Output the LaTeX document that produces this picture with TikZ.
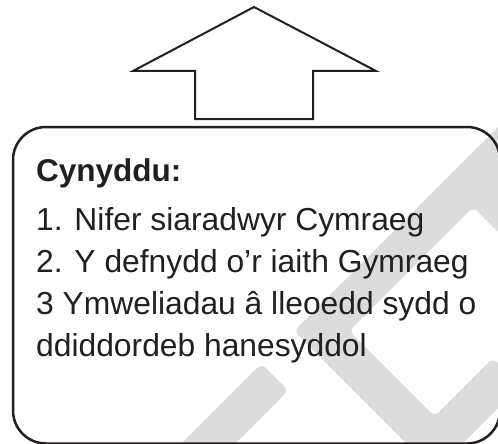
\documentclass[tikz,border=0pt]{standalone}
\usepackage{fontspec}
\setmainfont{Liberation Sans}
\definecolor{ink}{RGB}{35,31,32}
\definecolor{wm}{RGB}{220,220,220}
\tikzset{
  txt/.style={anchor=base west, inner sep=0pt, text=ink, font=\fontsize{31.8}{38}\selectfont},
  ttl/.style={txt, font=\bfseries\fontsize{31.5}{38}\selectfont},
  wmark/.style={fill=wm, rounded corners=6pt},
  boxstyle/.style={draw=ink, line width=2.5pt, rounded corners=33pt, inner sep=0pt},
  arrowline/.style={draw=ink, line width=2pt, line join=miter}
}
\begin{document}
\begin{tikzpicture}[x=1pt,y=-1pt]
\useasboundingbox (0,0) rectangle (498,444);
% watermark
\begin{scope}
\clip (0,0) rectangle (498,444);
\path[wmark] (261.6,363.6) -- (288.4,390.4) -- (182.4,496.4) -- (155.6,469.6) -- cycle;
\path[wmark] (560,65) -- (294,331) -- (434.5,471.5) -- (520.5,385.5) -- (493,358)
  -- (434.5,416.5) -- (349,331) -- (473,207) -- (600,334) -- (600,65) -- cycle;
\end{scope}
% box
\node[boxstyle, minimum width=487pt, minimum height=316.5pt] (box) at (256.5,285.25) {};
% arrow
\path[arrowline] (254,7) -- (376,71) -- (313,71) -- (313,119) -- (195,119) -- (195,71) -- (133,71) -- cycle;
% text
\node[ttl] (title) at (36,181) {Cynyddu:};
\node[txt] (l1) at (36,230) {1. Nifer siaradwyr Cymraeg};
\node[txt] (l2) at (36,272) {2. Y defnydd o’r iaith Gymraeg};
\node[txt] (l3) at (36,314) {3 Ymweliadau â lleoedd sydd o};
\node[txt] (l4) at (36,356) {ddiddordeb hanesyddol};
\end{tikzpicture}
\end{document}
